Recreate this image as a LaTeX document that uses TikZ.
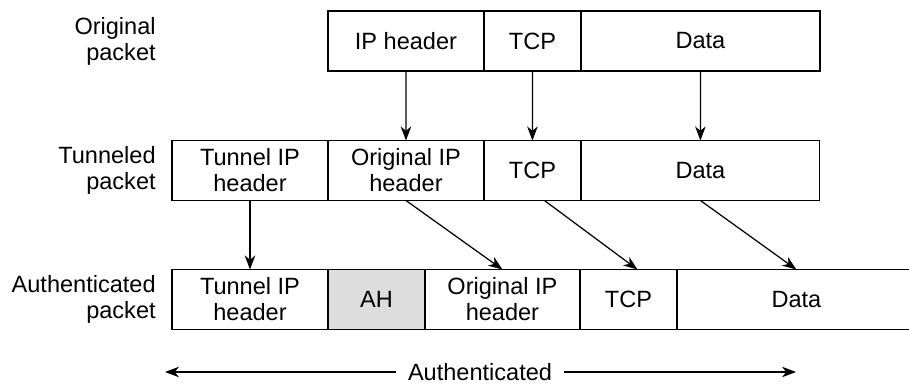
\documentclass[tikz,border=0pt]{standalone}
\usepackage{fontspec}
\setmainfont{Liberation Sans}
\usetikzlibrary{arrows.meta,positioning}
\definecolor{ahgray}{RGB}{222,221,222}

\tikzset{
  field/.style={draw, line width=0.7pt, minimum height=1.2cm, inner sep=0pt, outer sep=0pt, align=center},
  hdr/.style={field, minimum width=3.12cm},
  tcp/.style={field, minimum width=1.94cm},
  dat/.style={field, minimum width=4.78cm},
  rowlabel/.style={anchor=east, align=right, inner sep=0pt},
  flow/.style={line width=0.7pt, -{Stealth[length=8pt,width=6pt,inset=2.5pt]}}
}

\begin{document}
\begin{tikzpicture}[x=0.02cm, y=-0.02cm, font=\fontsize{13.4}{14.8}\selectfont]
\useasboundingbox (0,0) rectangle (909,384);

% original packet
\node[rowlabel] (lorig) at (156,41) {Original\\packet};
\node[hdr, anchor=west] (oip) at (328,41) {IP header};
\node[tcp, right=0pt of oip] (otcp) {TCP};
\node[dat, right=0pt of otcp] (odata) {Data};

% tunneled packet
\node[rowlabel] (ltun) at (156,170.5) {Tunneled\\packet};
\node[hdr, anchor=west] (ttip) at (172,170.5) {Tunnel IP\\header};
\node[hdr, right=0pt of ttip] (toip) {Original IP\\header};
\node[tcp, right=0pt of toip] (ttcp) {TCP};
\node[dat, right=0pt of ttcp] (tdata) {Data};

% authenticated packet
\node[rowlabel] (lauth) at (156,299.5) {Authenticated\\packet};
\node[hdr, anchor=west] (atip) at (172,299.5) {Tunnel IP\\header};
\node[tcp, fill=ahgray, right=0pt of atip] (aah) {AH};
\node[hdr, minimum width=3.1cm, right=0pt of aah] (aoip) {Original IP\\header};
\node[tcp, right=0pt of aoip] (atcp) {TCP};
\node[dat, right=0pt of atcp] (adata) {Data};

% arrows
\draw[flow] (oip.south) -- (toip.north);
\draw[flow] (otcp.south) -- (ttcp.north);
\draw[flow] (odata.south) -- (tdata.north);

\draw[flow] (ttip.south) -- (atip.north);
\draw[flow] (toip.south) -- (aoip.north);
\draw[flow] ([xshift=0.24cm]ttcp.south) -- ([xshift=0.18cm]atcp.north);
\draw[flow] (tdata.south) -- (adata.north);

% authenticated span
\node[inner xsep=0.24cm] (auth) at (480,372) {Authenticated};
\coordinate (authL) at (165,372);
\coordinate (authR) at (796,372);
\draw[flow] (auth) -- (authL);
\draw[flow] (auth) -- (authR);
\end{tikzpicture}
\end{document}
